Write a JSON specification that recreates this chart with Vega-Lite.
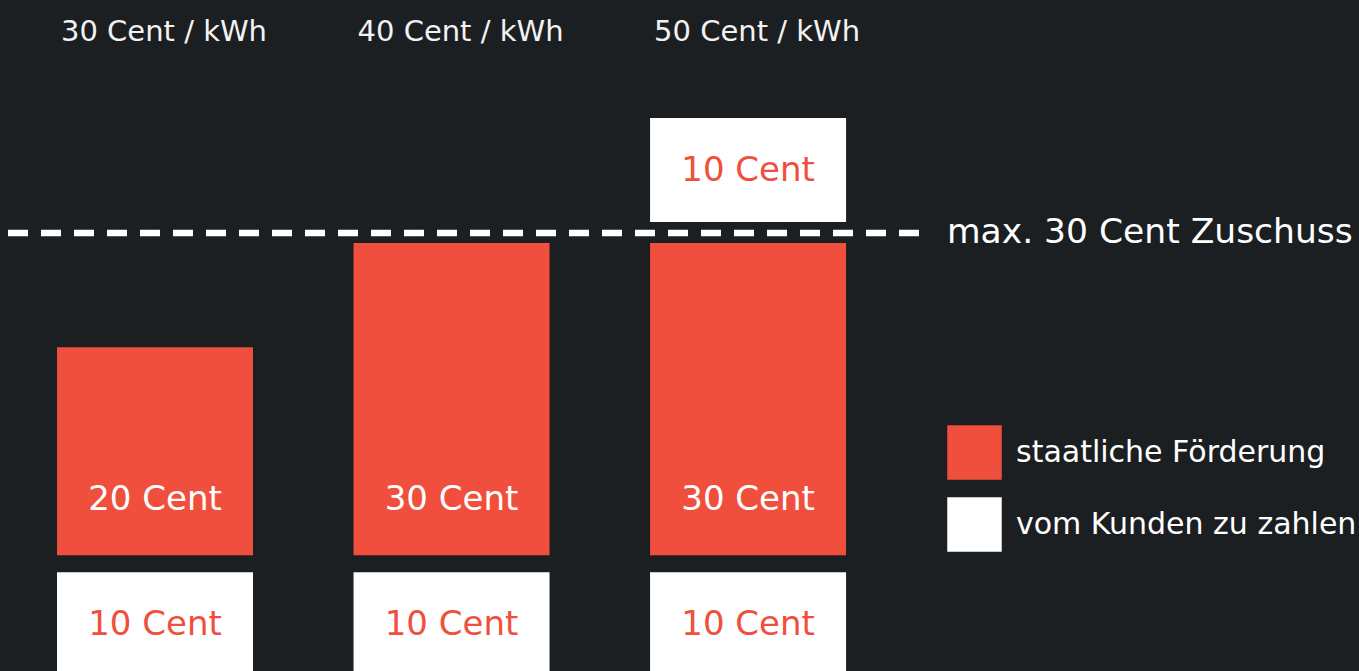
{
  "$schema": "https://vega.github.io/schema/vega-lite/v6.json",
  "width": 1359,
  "height": 671,
  "autosize": {"type": "fit", "contains": "padding"},
  "padding": 0,
  "background": "#1c1f22",
  "config": {"view": {"stroke": null}, "font": "DejaVu Sans"},
  "datasets": {
    "segmente": [
      {"preis": "30 Cent / kWh", "typ": "vom Kunden zu zahlen", "von": 0, "bis": 10, "text": "10 Cent"},
      {"preis": "30 Cent / kWh", "typ": "staatliche Förderung", "von": 11.63, "bis": 31.63, "text": "20 Cent"},
      {"preis": "40 Cent / kWh", "typ": "vom Kunden zu zahlen", "von": 0, "bis": 10, "text": "10 Cent"},
      {"preis": "40 Cent / kWh", "typ": "staatliche Förderung", "von": 11.63, "bis": 41.63, "text": "30 Cent"},
      {"preis": "50 Cent / kWh", "typ": "vom Kunden zu zahlen", "von": 0, "bis": 10, "text": "10 Cent"},
      {"preis": "50 Cent / kWh", "typ": "staatliche Förderung", "von": 11.63, "bis": 41.63, "text": "30 Cent"},
      {"preis": "50 Cent / kWh", "typ": "vom Kunden zu zahlen", "von": 43.65, "bis": 53.65, "text": "10 Cent"}
    ],
    "preise": [
      {"preis": "30 Cent / kWh"},
      {"preis": "40 Cent / kWh"},
      {"preis": "50 Cent / kWh"}
    ],
    "grenze": [
      {"links": "30 Cent / kWh", "rechts": "50 Cent / kWh", "wert": 42.6, "text": "max. 30 Cent Zuschuss"}
    ]
  },
  "layer": [
    {
      "data": {"name": "segmente"},
      "mark": {"type": "bar", "clip": true},
      "encoding": {
        "x": {
          "field": "preis", "type": "nominal", "axis": null,
          "scale": {"domain": ["30 Cent / kWh", "40 Cent / kWh", "50 Cent / kWh"], "paddingInner": 0.339, "paddingOuter": 0.961, "align": 0.1}
        },
        "y": {"field": "von", "type": "quantitative", "axis": null, "scale": {"domain": [0.5, 65], "nice": false, "zero": false}},
        "y2": {"field": "bis"},
        "color": {
          "field": "typ", "type": "nominal",
          "scale": {"domain": ["staatliche Förderung", "vom Kunden zu zahlen"], "range": ["#f04f3d", "#ffffff"]},
          "legend": {
            "orient": "none", "legendX": 947, "legendY": 425, "title": null, "padding": 0,
            "symbolType": "square", "symbolSize": 2970, "symbolStrokeWidth": 0, "symbolOpacity": 1,
            "labelFontSize": 30, "labelColor": "#ffffff", "labelFont": "DejaVu Sans", "labelOffset": 14,
            "rowPadding": 17, "labelLimit": 500
          }
        }
      }
    },
    {
      "data": {"name": "segmente"},
      "transform": [{"filter": "datum.typ === 'staatliche Förderung'"}],
      "mark": {"type": "text", "color": "#ffffff", "fontSize": 34, "baseline": "middle", "dy": -55},
      "encoding": {
        "x": {"field": "preis", "type": "nominal"},
        "y": {"field": "von", "type": "quantitative"},
        "text": {"field": "text"}
      }
    },
    {
      "data": {"name": "segmente"},
      "transform": [{"filter": "datum.typ === 'vom Kunden zu zahlen'"}],
      "mark": {"type": "text", "color": "#f04f3d", "fontSize": 34, "baseline": "middle", "dy": 53},
      "encoding": {
        "x": {"field": "preis", "type": "nominal"},
        "y": {"field": "bis", "type": "quantitative"},
        "text": {"field": "text"}
      }
    },
    {
      "data": {"name": "preise"},
      "mark": {"type": "text", "color": "#f2f2f2", "fontSize": 29, "baseline": "middle", "dx": 9},
      "encoding": {
        "x": {"field": "preis", "type": "nominal"},
        "y": {"datum": 61.94, "type": "quantitative"},
        "text": {"field": "preis"}
      }
    },
    {
      "data": {"name": "grenze"},
      "mark": {"type": "rule", "color": "#ffffff", "strokeWidth": 6.5, "strokeDash": [20, 13]},
      "encoding": {
        "x": {"field": "links", "type": "nominal", "bandPosition": -0.25},
        "x2": {"field": "rechts", "bandPosition": 1.378},
        "y": {"field": "wert", "type": "quantitative"}
      }
    },
    {
      "data": {"name": "grenze"},
      "mark": {"type": "text", "color": "#ffffff", "fontSize": 34.5, "baseline": "middle", "align": "left"},
      "encoding": {
        "x": {"field": "rechts", "type": "nominal", "bandPosition": 1.515},
        "y": {"field": "wert", "type": "quantitative"},
        "text": {"field": "text"}
      }
    }
  ]
}
